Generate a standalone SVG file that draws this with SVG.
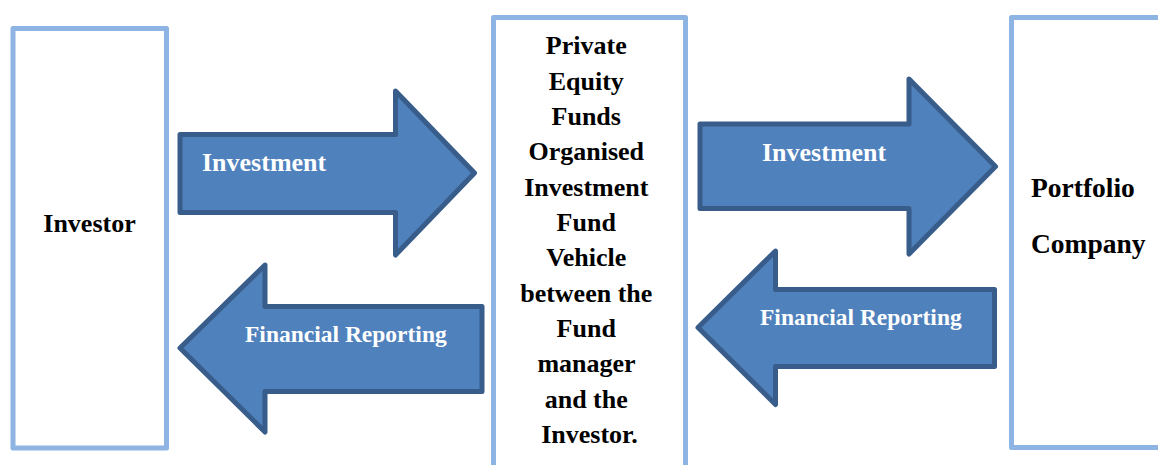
<svg xmlns="http://www.w3.org/2000/svg" width="1158" height="465" viewBox="0 0 1158 465">
<style>
.box{fill:#ffffff;stroke:#8DB4E3;stroke-width:5;stroke-linejoin:round}
.arrow{fill:#4F81BD;stroke:#385D8A;stroke-width:5;stroke-linejoin:round}
.lbl{font-family:"Liberation Serif","Times New Roman",serif;font-weight:bold;fill:#000000;font-size:26px}
.albl{font-family:"Liberation Serif","Times New Roman",serif;font-weight:bold;fill:#ffffff}
</style>
<rect width="1158" height="465" fill="#ffffff"/>
<g id="investor">
<rect class="box" x="13" y="28.5" width="153.5" height="419.5"/>
<text class="lbl" x="89.5" y="231.5" text-anchor="middle">Investor</text>
</g>
<g id="fund">
<rect class="box" x="493.5" y="17.5" width="192" height="470"/>
<text class="lbl" text-anchor="middle">
<tspan x="589.5" y="54">Private</tspan>
<tspan x="589.5" y="89.5">Equity</tspan>
<tspan x="589.5" y="124.5">Funds</tspan>
<tspan x="589.5" y="160">Organised</tspan>
<tspan x="589.5" y="195.5">Investment</tspan>
<tspan x="589.5" y="230.5">Fund</tspan>
<tspan x="589.5" y="266">Vehicle</tspan>
<tspan x="589.5" y="301.5">between the</tspan>
<tspan x="589.5" y="337">Fund</tspan>
<tspan x="589.5" y="372">manager</tspan>
<tspan x="589.5" y="407.5">and the</tspan>
<tspan x="589.5" y="443">Investor.</tspan>
</text>
</g>
<g id="portfolio">
<rect class="box" x="1011.5" y="17.5" width="170" height="430"/>
<text class="lbl" x="1031" y="197" style="font-size:27.5px">Portfolio</text>
<text class="lbl" x="1031" y="253" style="font-size:27.5px">Company</text>
</g>
<g id="connectors">
<g id="arrow-investment-1">
<polygon class="arrow" points="180,134.5 395.5,134.5 395.5,91 474.5,173 395.5,255 395.5,212.5 180,212.5"/>
<text class="albl" x="202" y="171" font-size="26">Investment</text>
</g>
<g id="arrow-reporting-1">
<polygon class="arrow" points="482,306.5 265,306.5 265,265 180,348 265,432 265,391.5 482,391.5"/>
<text class="albl" x="245" y="342.3" font-size="23.5">Financial Reporting</text>
</g>
<g id="arrow-investment-2">
<polygon class="arrow" points="700,124 909,124 909,79 995.5,166.5 909,254 909,208.5 700,208.5"/>
<text class="albl" x="762" y="160.7" font-size="26">Investment</text>
</g>
<g id="arrow-reporting-2">
<polygon class="arrow" points="994.5,289.5 775.5,289.5 775.5,251 698,327.5 775.5,404.5 775.5,366.5 994.5,366.5"/>
<text class="albl" x="760" y="325" font-size="23.5">Financial Reporting</text>
</g>
</g>
</svg>
